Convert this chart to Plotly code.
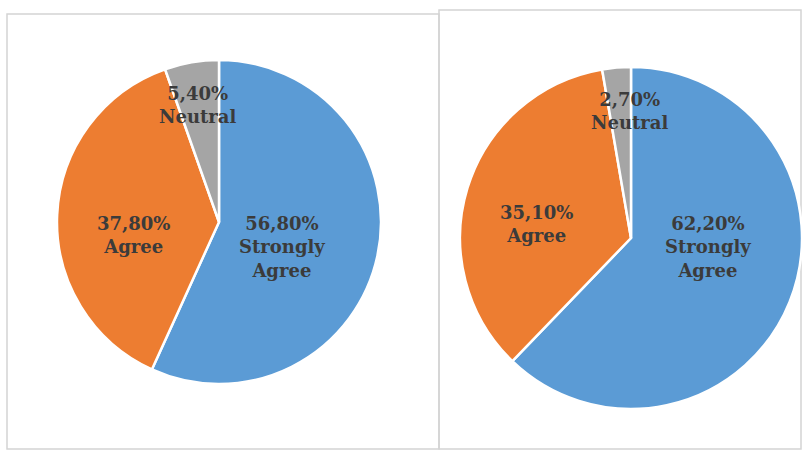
import plotly.graph_objects as go

# Survey responses for two questions (percent of respondents)
categories = ["Strongly Agree", "Agree", "Neutral"]
values_left = [56.8, 37.8, 5.4]
values_right = [62.2, 35.1, 2.7]

colors = ["#5B9BD5", "#ED7D31", "#A5A5A5"]

W, H = 802, 452

# Pie geometry in pixels: centre x, centre y, radius
pies = [
    dict(values=values_left, cx=219, cy=222, r=162,
         # label block centres, as offsets from the pie centre in radius units
         label_offsets=[(0.39, 0.155), (-0.53, 0.08), (-0.135, -0.72)]),
    dict(values=values_right, cx=631, cy=238, r=171,
         label_offsets=[(0.45, 0.053), (-0.55, -0.08), (-0.01, -0.74)]),
]

# Panel frames (pixel boxes: x0, y0, x1, y1)
panels = [(7, 14, 439, 449), (439, 10, 801, 449)]


def px_x(x):
    return x / W


def px_y(y):
    return 1 - y / H


def fmt(v):
    return f"{v:.2f}".replace(".", ",") + "%"


fig = go.Figure()
annotations = []

for p in pies:
    cx, cy, r = p["cx"], p["cy"], p["r"]
    fig.add_trace(go.Pie(
        labels=categories,
        values=p["values"],
        sort=False,
        direction="clockwise",
        rotation=0,
        marker=dict(colors=colors, line=dict(color="white", width=2.5)),
        textinfo="none",
        hoverinfo="label+percent",
        showlegend=False,
        domain=dict(x=[px_x(cx - r), min(1.0, px_x(cx + r))],
                    y=[px_y(cy + r), px_y(cy - r)]),
    ))
    for cat, val, (dx, dy) in zip(categories, p["values"], p["label_offsets"]):
        text = fmt(val) + "<br>" + cat.replace(" ", "<br>")
        annotations.append(dict(
            x=px_x(cx + dx * r), y=px_y(cy + dy * r),
            xref="paper", yref="paper",
            xanchor="center", yanchor="middle",
            text="<b>" + text + "</b>",
            showarrow=False,
            align="center",
            font=dict(family="DejaVu Serif", size=18, color="#3b3b3b"),
        ))

shapes = []
for x0, y0, x1, y1 in panels:
    shapes.append(dict(
        type="rect", xref="paper", yref="paper",
        x0=px_x(x0), x1=px_x(x1), y0=px_y(y1), y1=px_y(y0),
        line=dict(color="#D4D4D4", width=1.5),
        fillcolor="rgba(0,0,0,0)", layer="below",
    ))

fig.update_layout(
    width=W, height=H,
    margin=dict(l=0, r=0, t=0, b=0),
    paper_bgcolor="white",
    plot_bgcolor="white",
    annotations=annotations,
    shapes=shapes,
)

fig.write_html("out.html")
